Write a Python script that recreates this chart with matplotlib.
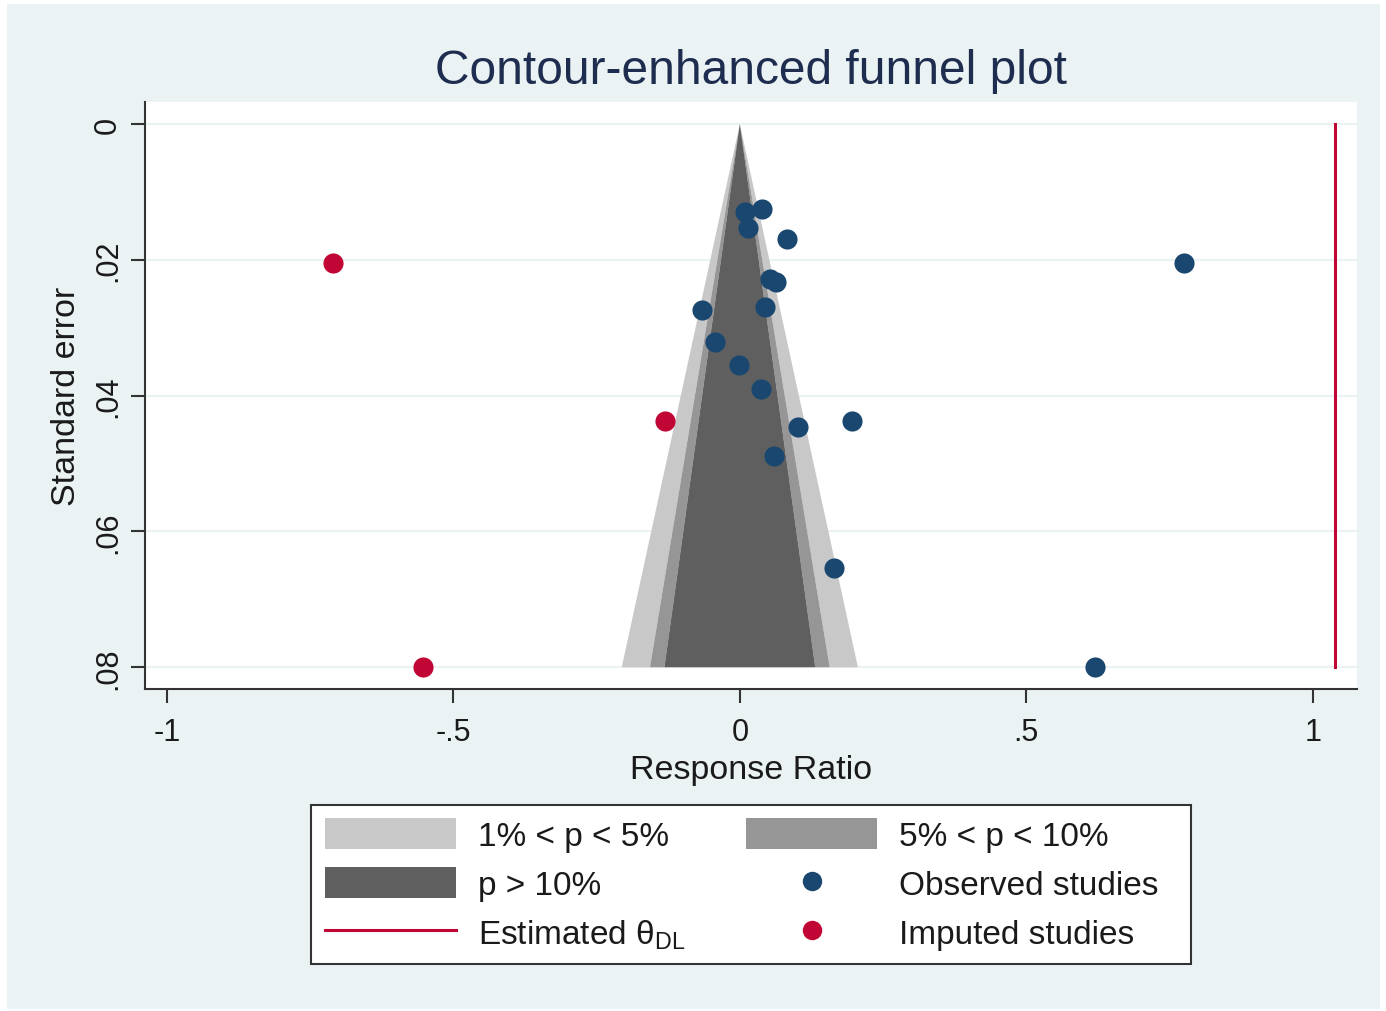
import matplotlib
matplotlib.use('Agg')
import matplotlib.pyplot as plt
from matplotlib.patches import Rectangle, Patch
from matplotlib.lines import Line2D
import numpy as np

plt.rcParams['font.family'] = ['Liberation Sans', 'DejaVu Sans']
plt.rcParams['mathtext.fontset'] = 'custom'
plt.rcParams['mathtext.rm'] = 'Liberation Sans'

# observed studies (effect, standard error)
obs_rr = [0.009, 0.038, 0.014, 0.082, 0.775, 0.052, 0.063, -0.066, 0.044,
          -0.044, -0.002, 0.037, 0.195, 0.101, 0.059, 0.164, 0.620]
obs_se = [0.0130, 0.0125, 0.0153, 0.0169, 0.0205, 0.0228, 0.0233, 0.0274, 0.0270,
          0.0321, 0.0355, 0.0390, 0.0438, 0.0446, 0.0489, 0.0654, 0.0800]

# imputed studies (trim and fill)
imp_rr = [-0.710, -0.131, -0.553]
imp_se = [0.0205, 0.0438, 0.0800]

theta_dl = 1.038
se_max = 0.08

# contour z values: 1%, 5%, 10%
z01, z05, z10 = 2.576, 1.960, 1.645

xticks = [-1, -0.5, 0, 0.5, 1]
xticklabels = ['-1', '-.5', '0', '.5', '1']
yticks = [0, 0.02, 0.04, 0.06, 0.08]
yticklabels = ['0', '.02', '.04', '.06', '.08']

c_light = '#c8c8c8'
c_mid = '#969696'
c_dark = '#5f5f5f'
c_obs = '#1a476f'
c_imp = '#c10534'
bg = '#eaf2f3'

fig = plt.figure(figsize=(13.86, 10.12), dpi=100, facecolor='white')
fig.patches.append(Rectangle((7 / 1386, 2 / 1012), 1373 / 1386, 1005 / 1012,
                             transform=fig.transFigure, facecolor=bg,
                             edgecolor='none', zorder=-10))

ax = fig.add_axes([145 / 1386, 1 - 690 / 1012, 1212 / 1386, 587 / 1012])
ax.set_facecolor('white')


def band(zin, zout, color):
    # both sides of the funnel between two z contours
    for s in (-1, 1):
        xs = [0, s * zout * se_max, s * zin * se_max, 0]
        ys = [0, se_max, se_max, 0]
        ax.fill(xs, ys, color=color, lw=0, zorder=1)


band(z05, z01, c_light)
band(z10, z05, c_mid)
ax.fill([0, -z10 * se_max, z10 * se_max], [0, se_max, se_max], color=c_dark, lw=0, zorder=1)

ax.plot([theta_dl, theta_dl], [0, se_max], color=c_imp, lw=2.2, zorder=2)

ax.scatter(obs_rr, obs_se, s=210, color=c_obs, lw=0, zorder=3)
ax.scatter(imp_rr, imp_se, s=210, color=c_imp, lw=0, zorder=3)

ax.set_xlim(-1.038, 1.077)
ax.set_ylim(0.0832, -0.00324)

ax.set_xticks(xticks)
ax.set_xticklabels(xticklabels)
ax.set_yticks(yticks)
ax.set_yticklabels(yticklabels, rotation=90, va='center')
ax.tick_params(axis='both', labelsize=22, length=10, width=1.5, color='#333333',
               labelcolor='#1a1a1a')
ax.tick_params(axis='x', pad=10)
ax.tick_params(axis='y', pad=6)
ax.grid(axis='y', color=bg, lw=1.5, zorder=0)
ax.set_axisbelow(True)

for side in ('top', 'right'):
    ax.spines[side].set_visible(False)
for side in ('left', 'bottom'):
    ax.spines[side].set_color('#333333')
    ax.spines[side].set_linewidth(1.5)

ax.set_xlabel('Response Ratio', fontsize=24.5, color='#1a1a1a', labelpad=5)
ax.set_ylabel('Standard error', fontsize=24.5, color='#1a1a1a', labelpad=8)
fig.text(751 / 1386, 1 - 72 / 1012, 'Contour-enhanced funnel plot', fontsize=34.5,
         color='#1e2d4f', ha='center', va='center')

handles = [
    Patch(facecolor=c_light, edgecolor='none', label='1% < p < 5%'),
    Patch(facecolor=c_dark, edgecolor='none', label='p > 10%'),
    Line2D([], [], color=c_imp, lw=2.2, label=r'Estimated θ$_{\rm DL}$'),
    Patch(facecolor=c_mid, edgecolor='none', label='5% < p < 10%'),
    Line2D([], [], marker='o', ls='none', ms=14, color=c_obs, mec='none', label='Observed studies  '),
    Line2D([], [], marker='o', ls='none', ms=14, color=c_imp, mec='none', label='Imputed studies'),
]
leg = fig.legend(handles=handles, ncol=2, loc='center', bbox_to_anchor=(751 / 1386, 1 - 885.5 / 1012),
                 fontsize=24, frameon=True, fancybox=False, edgecolor='#333333',
                 facecolor='white', framealpha=1,
                 handlelength=3.95, handleheight=1.05, handletextpad=0.66,
                 columnspacing=1.8, labelspacing=0.455, borderpad=0.4, borderaxespad=0)
leg.get_frame().set_linewidth(1.5)
for t in leg.get_texts():
    t.set_color('#1a1a1a')

fig.savefig('out.png', dpi=100, facecolor=fig.get_facecolor())
